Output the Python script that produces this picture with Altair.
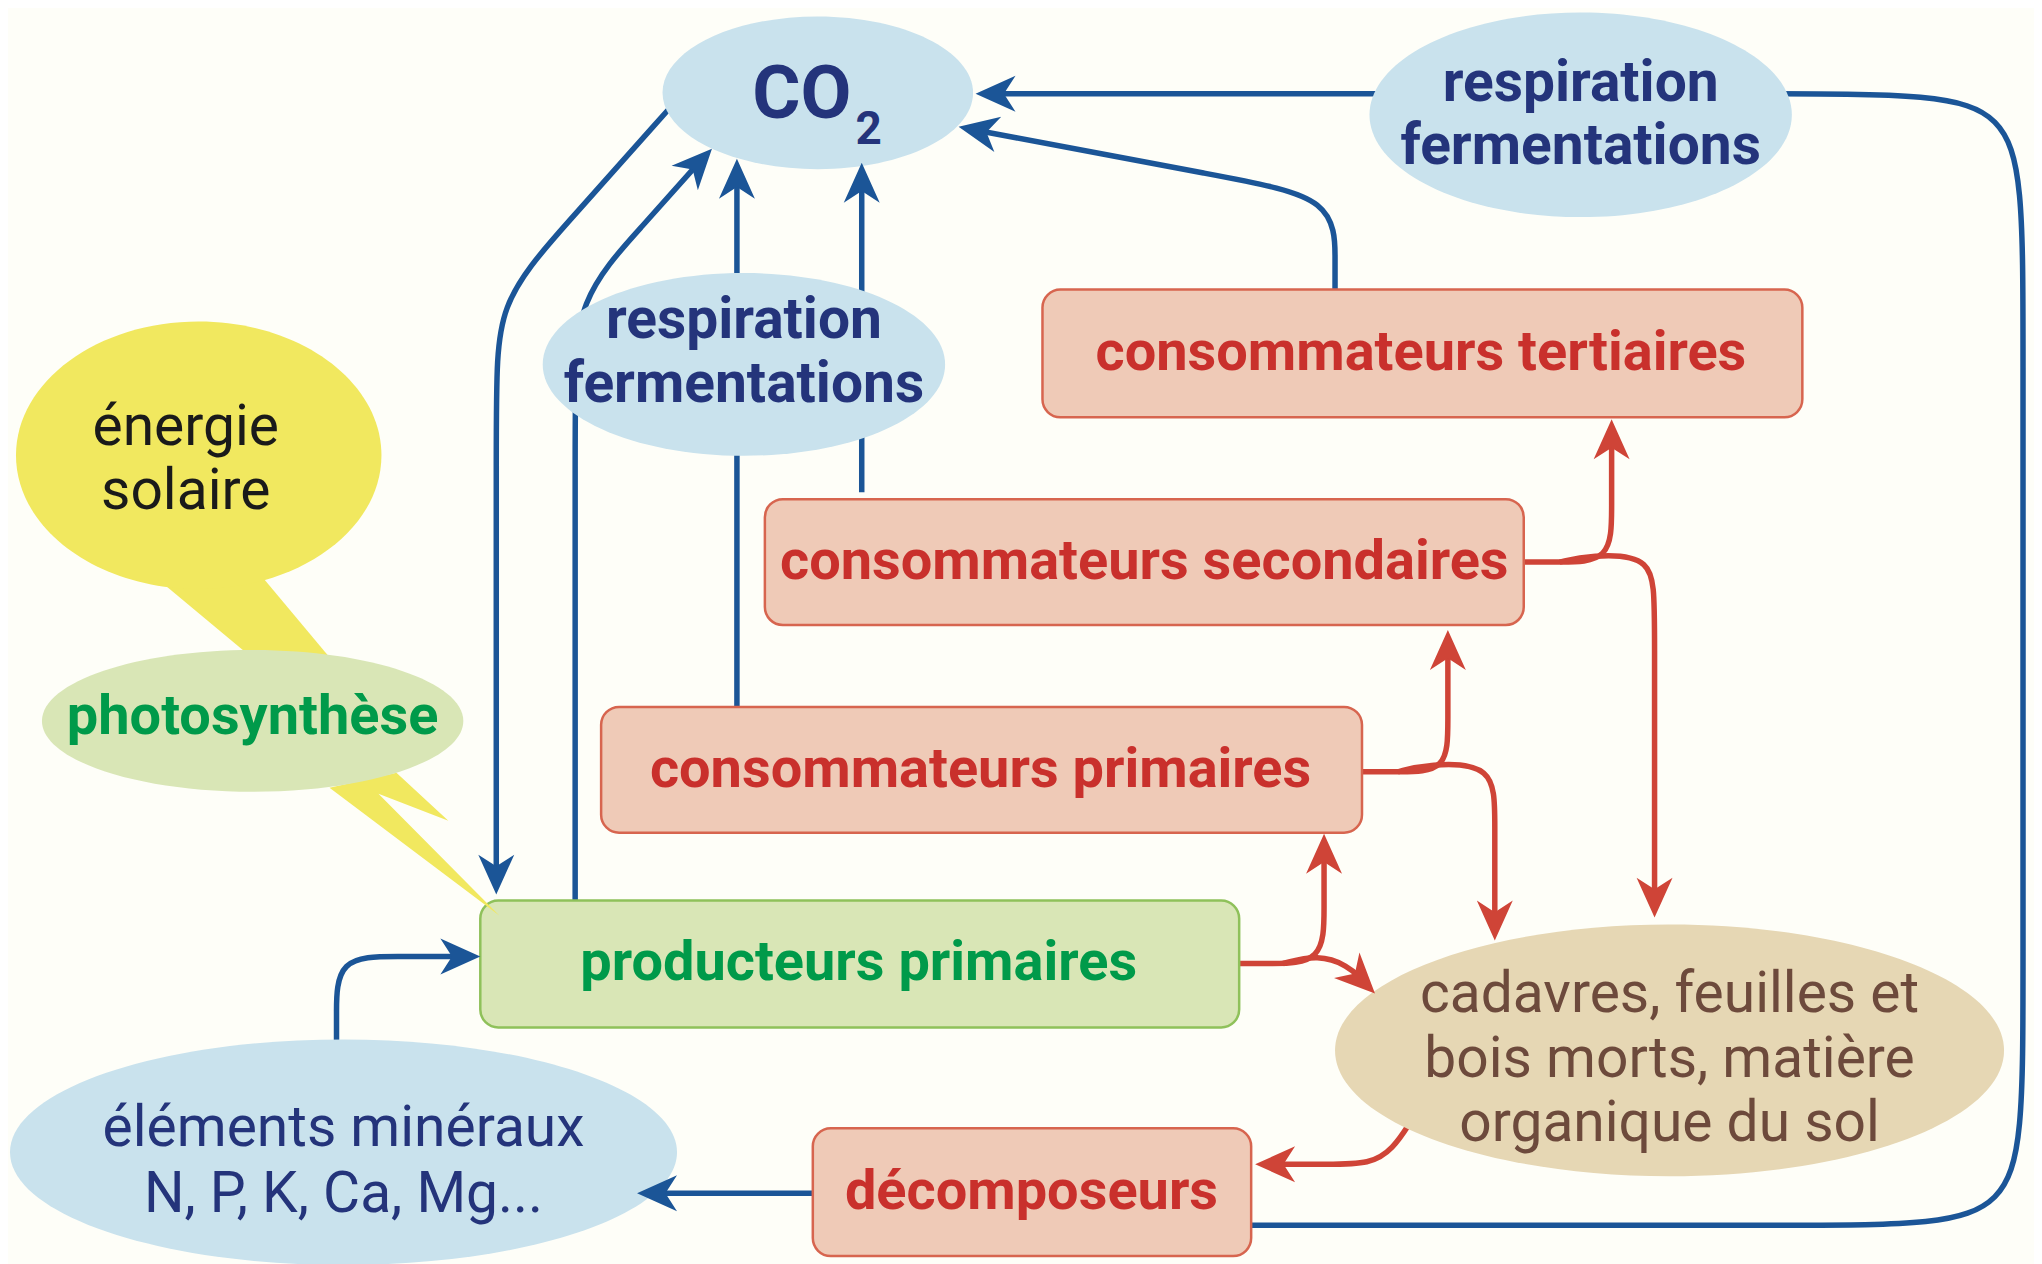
import altair as alt
import pandas as pd

# ---------------- palette ----------------
BG = "#FEFEF8"
NAVY = "#24347B"
BLUE = "#1B5597"
RED_LINE = "#CF4437"
RED_TEXT = "#C9302C"
SALMON = "#EFCAB7"
SALMON_EDGE = "#D7654F"
GREEN_FILL = "#D9E6B6"
GREEN_EDGE = "#8FC15A"
GREEN_TEXT = "#009A4A"
LIGHT_BLUE = "#C9E2ED"
YELLOW = "#F1E85F"
TAN = "#E6D7B4"
BROWN = "#6D4A3C"
BLACK = "#1A1A1A"

FONT = "Roboto"

# ---------------- ellipses (centre, width, height) ----------------
ell_names = ["co2", "resp_top", "resp_mid", "energie", "photo", "elements", "cadavres"]
ell_cx = [819, 1583, 745, 199, 253, 344, 1672]
ell_cy = [92, 114, 364, 455, 721, 1153, 1051]
ell_w = [311, 423, 403, 366, 422, 668, 670]
ell_h = [153, 205, 183, 268, 142, 226, 252]
ell_fill = [LIGHT_BLUE, LIGHT_BLUE, LIGHT_BLUE, YELLOW, GREEN_FILL, LIGHT_BLUE, TAN]

# ---------------- rounded boxes ----------------
rect_names = ["tertiaires", "secondaires", "primaires", "producteurs", "decomposeurs"]
rect_x1 = [1044, 766, 602, 481, 814]
rect_x2 = [1805, 1526, 1364, 1241, 1253]
rect_y1 = [289, 499, 707, 901, 1129]
rect_y2 = [417, 625, 833, 1028, 1257]
rect_fill = [SALMON, SALMON, SALMON, GREEN_FILL, SALMON]
rect_stroke = [SALMON_EDGE, SALMON_EDGE, SALMON_EDGE, GREEN_EDGE, SALMON_EDGE]

# ---------------- speech-bubble tails (polygons) ----------------
tail_ids = ["upper", "lower"]
tail_xs = [[153, 261, 349, 279], [330, 397, 449, 379, 500]]
tail_ys = [[575, 575, 680, 680], [788, 773, 821, 794, 916]]

# ---------------- arrow paths (control points) ----------------
line_ids = ["loop", "tert_co2", "diag_co2", "up1", "up2", "co2_prod", "elem_prod", "dec_elem",
            "prod_prim", "prod_cad", "prim_sec", "prim_cad", "sec_ter", "sec_cad", "cad_dec"]
line_colors = [BLUE] * 8 + [RED_LINE] * 7
line_xs = [
    [1253, 1856, 2026, 2026, 2026, 2026, 1856, 1000],
    [1337, 1337, 1337, 1230, 975],
    [576, 576, 576, 644, 706],
    [738, 738],
    [863, 863],
    [671, 563, 497, 497, 497],
    [337, 337, 337, 397, 466],
    [814, 654],
    [1241, 1270, 1326, 1326, 1326],
    [1285, 1320, 1350, 1364],
    [1364, 1400, 1450, 1450, 1450],
    [1400, 1430, 1497, 1497, 1497],
    [1526, 1560, 1614, 1614, 1614],
    [1562, 1592, 1657, 1657, 1657],
    [1413, 1395, 1372, 1330, 1275],
]
line_ys = [
    [1226, 1226, 1226, 1056, 263, 93, 93, 93],
    [289, 262, 197, 177, 129],
    [901, 399, 299, 225, 155],
    [707, 174],
    [492, 178],
    [107, 228, 303, 403, 876],
    [1045, 1017, 957, 957, 957],
    [1194, 1194],
    [964, 964, 964, 908, 852],
    [964, 955, 966, 980],
    [772, 772, 772, 722, 648],
    [772, 764, 764, 820, 923],
    [562, 562, 562, 508, 437],
    [562, 555, 555, 612, 900],
    [1122, 1150, 1165, 1165, 1165],
]

# ---------------- arrowheads (tip position, heading in degrees) ----------------
arrow_x = [977, 960, 713, 738, 863, 497, 481, 638, 1326, 1377, 1450, 1497, 1614, 1657, 1257]
arrow_y = [93, 126, 148, 158, 162, 895, 957, 1194, 834, 994, 630, 941, 419, 918, 1165]
arrow_angle = [270, 281, 43, 0, 0, 180, 90, 270, 0, 135, 0, 180, 0, 180, 270]
arrow_color = [BLUE] * 8 + [RED_LINE] * 7

# ---------------- labels ----------------
bold_text = ["respiration", "fermentations", "respiration", "fermentations", "CO", "2",
             "consommateurs tertiaires", "consommateurs secondaires", "consommateurs primaires",
             "décomposeurs", "producteurs primaires", "photosynthèse"]
bold_x = [1583, 1583, 745, 745, 803, 870, 1423, 1146, 982, 1033, 860, 253]
bold_y = [100, 163, 338, 402, 117, 143, 370, 579, 787, 1210, 981, 734]
bold_color = [NAVY, NAVY, NAVY, NAVY, NAVY, NAVY, RED_TEXT, RED_TEXT, RED_TEXT, RED_TEXT,
              GREEN_TEXT, GREEN_TEXT]
bold_size = [57, 57, 57, 57, 74, 46, 56, 56, 56, 56, 56, 56]

reg_text = ["énergie", "solaire", "éléments minéraux", "N, P, K, Ca, Mg...",
            "cadavres, feuilles et", "bois morts, matière", "organique du sol"]
reg_x = [186, 186, 344, 344, 1672, 1672, 1672]
reg_y = [445, 509, 1147, 1213, 1013, 1078, 1142]
reg_color = [BLACK, BLACK, NAVY, NAVY, BROWN, BROWN, BROWN]
reg_size = [57] * 7


# ---------------- helpers ----------------
def ellipse_path(k):
    c = 0.5523
    return (f"M -1 0 C -1 {-c * k:.4f} {-c:.4f} {-k:.4f} 0 {-k:.4f} "
            f"C {c:.4f} {-k:.4f} 1 {-c * k:.4f} 1 0 "
            f"C 1 {c * k:.4f} {c:.4f} {k:.4f} 0 {k:.4f} "
            f"C {-c:.4f} {k:.4f} -1 {c * k:.4f} -1 0 Z")


ARROW_SHAPE = "M 0 0 L -0.9 2 L 0 1.42 L 0.9 2 Z"
ARROW_SIZE = 40 ** 2

xs = alt.Scale(domain=[8, 2034], nice=False, zero=False)
ys = alt.Scale(domain=[8, 1256], nice=False, zero=False, reverse=True)


def X(f="x"):
    return alt.X(f"{f}:Q", scale=xs, axis=None)


def Y(f="y"):
    return alt.Y(f"{f}:Q", scale=ys, axis=None)


# ---------------- data frames ----------------
ell_df = pd.DataFrame({
    "name": ell_names, "x": ell_cx, "y": ell_cy,
    "path": [ellipse_path(h / w) for w, h in zip(ell_w, ell_h)],
    "sz": [w * w for w in ell_w], "fill": ell_fill,
})

rect_df = pd.DataFrame({"name": rect_names, "x": rect_x1, "x2": rect_x2,
                        "y": rect_y1, "y2": rect_y2, "fill": rect_fill, "stroke": rect_stroke})

tail_rows = []
for tid, txs, tys in zip(tail_ids, tail_xs, tail_ys):
    for i, (a, b) in enumerate(zip(txs, tys)):
        tail_rows.append({"pid": tid, "ord": i, "x": a, "y": b})
tail_df = pd.DataFrame(tail_rows)

line_rows = []
for lid, col, lx, ly in zip(line_ids, line_colors, line_xs, line_ys):
    for i, (a, b) in enumerate(zip(lx, ly)):
        line_rows.append({"pid": lid, "ord": i, "x": a, "y": b, "col": col})
line_df = pd.DataFrame(line_rows)

arrow_df = pd.DataFrame({"x": arrow_x, "y": arrow_y, "ang": arrow_angle, "col": arrow_color})

bold_df = pd.DataFrame({"t": bold_text, "x": bold_x, "y": bold_y, "col": bold_color, "fs": bold_size})
reg_df = pd.DataFrame({"t": reg_text, "x": reg_x, "y": reg_y, "col": reg_color, "fs": reg_size})

# ---------------- layers ----------------
lines = alt.Chart(line_df).mark_line(interpolate="basis", strokeWidth=5.5, strokeCap="butt").encode(
    x=X(), y=Y(), detail="pid:N", order="ord:Q", color=alt.Color("col:N", scale=None))

rects = alt.Chart(rect_df).mark_rect(cornerRadius=18, strokeWidth=2.5).encode(
    x=X(), x2=alt.X2("x2:Q"), y=Y(), y2=alt.Y2("y2:Q"),
    fill=alt.Fill("fill:N", scale=None), stroke=alt.Stroke("stroke:N", scale=None))

tails = alt.Chart(tail_df).mark_line(filled=True, interpolate="linear-closed", color=YELLOW,
                                     strokeWidth=0).encode(
    x=X(), y=Y(), detail="pid:N", order="ord:Q")

ellipses = alt.Chart(ell_df).mark_point(filled=True, opacity=1, strokeWidth=0).encode(
    x=X(), y=Y(), shape=alt.Shape("path:N", scale=None), size=alt.Size("sz:Q", scale=None),
    color=alt.Color("fill:N", scale=None))

arrows = alt.Chart(arrow_df).mark_point(filled=True, opacity=1, strokeWidth=0, shape=ARROW_SHAPE,
                                        size=ARROW_SIZE).encode(
    x=X(), y=Y(), angle=alt.Angle("ang:Q", scale=None), color=alt.Color("col:N", scale=None))

bold_txt = alt.Chart(bold_df).mark_text(font=FONT, fontWeight="bold", align="center",
                                        baseline="alphabetic").encode(
    x=X(), y=Y(), text="t:N", color=alt.Color("col:N", scale=None), size=alt.Size("fs:Q", scale=None))

reg_txt = alt.Chart(reg_df).mark_text(font=FONT, fontWeight="normal", align="center",
                                      baseline="alphabetic").encode(
    x=X(), y=Y(), text="t:N", color=alt.Color("col:N", scale=None), size=alt.Size("fs:Q", scale=None))

chart = alt.layer(lines, rects, tails, ellipses, arrows, bold_txt, reg_txt).properties(
    width=2026, height=1248, padding=0, background=BG
).configure_view(stroke=None)

chart.save("out.html", embed_options={"renderer": "svg", "actions": False})
